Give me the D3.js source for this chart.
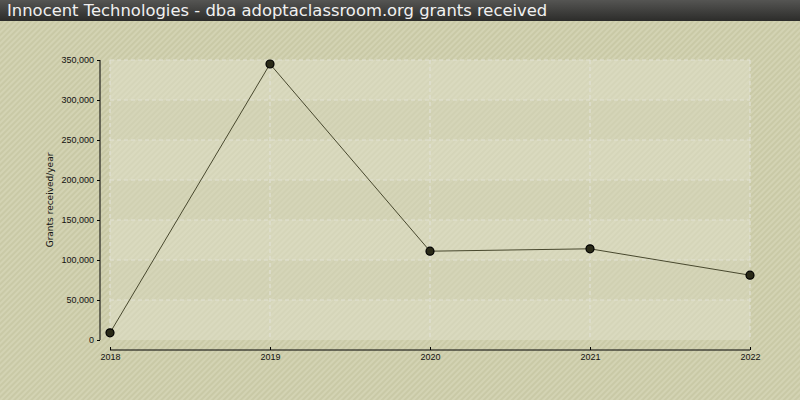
<!DOCTYPE html>
<html>
<head>
<meta charset="utf-8">
<script src="https://cdn.jsdelivr.net/npm/d3@7"></script>
<style>
  body { margin: 0; }
  svg { display: block; font-family: "DejaVu Sans", Verdana, sans-serif; }
</style>
</head>
<body>
<script>
const years = [2018, 2019, 2020, 2021, 2022]; // x categories
const grants = [9000, 345000, 111000, 114000, 81000]; // grants received per year
const yTicks = [0, 50000, 100000, 150000, 200000, 250000, 300000, 350000];

const width = 800, height = 400;
const plot = { left: 110, right: 750, top: 60, bottom: 340 };

const svg = d3.select("body").append("svg")
  .attr("width", width)
  .attr("height", height);

const defs = svg.append("defs");

// diagonal stripes for the page background
const bgPat = defs.append("pattern")
  .attr("id", "stripes")
  .attr("width", 4).attr("height", 4)
  .attr("patternUnits", "userSpaceOnUse")
  .attr("patternTransform", "rotate(45)");
bgPat.append("rect").attr("width", 4).attr("height", 4).attr("fill", "#d3d3b3");
bgPat.append("rect").attr("width", 2).attr("height", 4).attr("fill", "#c9c9a6");

const titleGrad = defs.append("linearGradient")
  .attr("id", "titleGrad").attr("x1", 0).attr("y1", 0).attr("x2", 0).attr("y2", 1);
titleGrad.append("stop").attr("offset", "0%").attr("stop-color", "#555553");
titleGrad.append("stop").attr("offset", "100%").attr("stop-color", "#2c2c2a");

svg.append("rect").attr("width", width).attr("height", height).attr("fill", "url(#stripes)");

// title bar
svg.append("rect").attr("width", width).attr("height", 21).attr("fill", "url(#titleGrad)");
svg.append("text")
  .attr("x", 7).attr("y", 16)
  .attr("fill", "#f0f0f0")
  .style("font-size", "16.4px")
  .text("Innocent Technologies - dba adoptaclassroom.org grants received");

const x = d3.scalePoint().domain(years).range([plot.left, plot.right]);
const y = d3.scaleLinear().domain([0, 350000]).range([plot.bottom, plot.top]);

// alternating bands
const bands = yTicks.slice(0, -1);
svg.append("g").selectAll("rect")
  .data(bands)
  .enter().append("rect")
  .attr("x", plot.left)
  .attr("width", plot.right - plot.left)
  .attr("y", d => y(d + 50000))
  .attr("height", d => y(d) - y(d + 50000))
  .attr("fill", (d, i) => i % 2 === 0 ? "#e2e2cc" : "#d8d8be")
  .attr("opacity", 0.5);

// grid lines
svg.append("g").selectAll("line")
  .data(yTicks.slice(1))
  .enter().append("line")
  .attr("x1", plot.left).attr("x2", plot.right)
  .attr("y1", d => y(d)).attr("y2", d => y(d))
  .attr("stroke", "#e2e2d4").attr("stroke-width", 1.2)
  .attr("stroke-dasharray", "4,3");

svg.append("g").selectAll("line")
  .data(years)
  .enter().append("line")
  .attr("x1", d => x(d)).attr("x2", d => x(d))
  .attr("y1", plot.top).attr("y2", plot.bottom)
  .attr("stroke", "#e2e2d4").attr("stroke-width", 1.2)
  .attr("stroke-dasharray", "4,3");

// axes
const yAxis = d3.axisLeft(y)
  .tickValues(yTicks)
  .tickSize(3)
  .tickPadding(3)
  .tickFormat(d3.format(","));

const yG = svg.append("g")
  .attr("transform", "translate(100,0)")
  .call(yAxis);
yG.select(".domain").attr("d", "M0," + plot.top + "V" + plot.bottom);

const xAxis = d3.axisBottom(x).tickSize(0).tickPadding(4);
const xG = svg.append("g")
  .attr("transform", "translate(0,350)")
  .call(xAxis);
xG.select(".domain").attr("d", "M" + plot.left + ",0H" + plot.right);
xG.selectAll(".tick").append("line").attr("y2", -3).attr("stroke", "#000");

svg.selectAll(".tick text").style("font-size", "9px").attr("fill", "#111");
svg.selectAll(".domain, .tick line").attr("stroke", "#000");

// y label
svg.append("text")
  .attr("transform", "translate(53," + ((plot.top + plot.bottom) / 2) + ") rotate(-90)")
  .attr("text-anchor", "middle")
  .style("font-size", "9px")
  .attr("fill", "#111")
  .text("Grants received/year");

// line + points
const line = d3.line()
  .x((d, i) => x(years[i]))
  .y(d => y(d));

svg.append("path")
  .datum(grants)
  .attr("d", line)
  .attr("fill", "none")
  .attr("stroke", "#48482e")
  .attr("stroke-width", 1);

svg.append("g").selectAll("circle")
  .data(grants)
  .enter().append("circle")
  .attr("cx", (d, i) => x(years[i]))
  .attr("cy", d => y(d))
  .attr("r", 4)
  .attr("fill", "#2a2a18")
  .attr("stroke", "#000")
  .attr("stroke-width", 1.2);
</script>
</body>
</html>
